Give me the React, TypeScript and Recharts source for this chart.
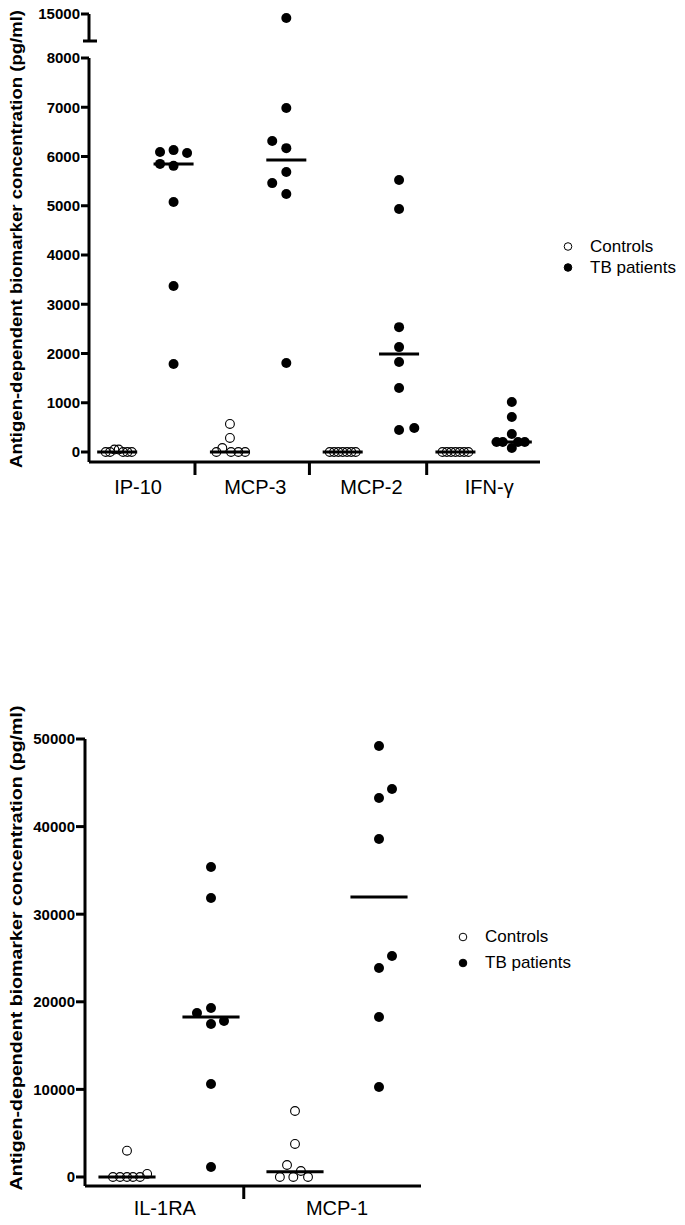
import { ScatterChart, Scatter, XAxis, YAxis, ReferenceLine, Legend } from 'recharts'

const FONT = '"Liberation Sans", Arial, Helvetica, sans-serif'
const TITLE = 'Antigen-dependent biomarker concentration (pg/ml)'

// ---- top panel ----
const topCategories = ['IP-10', 'MCP-3', 'MCP-2', 'IFN-γ']
const topTicks = [0, 1000, 2000, 3000, 4000, 5000, 6000, 7000, 8000]
const topBreakTicks = [13000, 15000]
const topSeparators = [2.38, 4.41, 6.49]
const topLabelPos = [1.37, 3.45, 5.51, 7.6]

const ip10Controls = [0, 0, 50, 50, 0, 0, 0]
const mcp3Controls = [570, 285, 80, 0, 0, 0, 0]
const mcp2Controls = [0, 0, 0, 0, 0, 0, 0]
const ifngControls = [0, 0, 0, 0, 0, 0, 0]

const ip10Tb = [6091, 6130, 6070, 5850, 5810, 5076, 3370, 1787]
const mcp3Tb = [14700, 6985, 6315, 6170, 5685, 5460, 5240, 1807]
const mcp2Tb = [5523, 4934, 2535, 2130, 1826, 1298, 446, 487]
const ifngTb = [1014, 711, 365, 203, 203, 203, 203, 81]

// horizontal spread of overlapping dots (column units)
const ip10ControlsDx = [-0.204, -0.127, -0.05, 0.027, 0.104, 0.181, 0.258]
const mcp3ControlsDx = [0, 0, -0.135, -0.24, 0.02, 0.15, 0.27]
const mcp2ControlsDx = [-0.23, -0.153, -0.077, 0, 0.077, 0.153, 0.23]
const ifngControlsDx = [-0.23, -0.153, -0.077, 0, 0.077, 0.153, 0.23]
const ip10TbDx = [-0.24, 0, 0.24, -0.24, 0, 0, 0, 0]
const mcp3TbDx = [0, 0, -0.25, 0, 0, -0.25, 0, 0]
const mcp2TbDx = [0, 0, 0, 0, 0, 0, 0, 0.27]
const ifngTbDx = [0, 0, 0, -0.27, -0.16, 0.11, 0.23, 0]

const topControlMedians = [0, 0, 0, 0]
const topTbMedians = [5848, 5930, 1990, 203]
const TOP_BREAK = 8000

// ---- bottom panel ----
const bottomCategories = ['IL-1RA', 'MCP-1']
const bottomTicks = [0, 10000, 20000, 30000, 40000, 50000]
const bottomSeparators = [2.39]
const bottomLabelPos = [1.45, 3.5]

const il1raControls = [3000, 0, 0, 0, 0, 0, 350]
const mcp1Controls = [7530, 3770, 1370, 685, 0, 0, 0]
const il1raTb = [35390, 31850, 19290, 18720, 17810, 17470, 10620, 1140]
const mcp1Tb = [49200, 44290, 43260, 38580, 25230, 23860, 18260, 10270]

const il1raControlsDx = [0, -0.167, -0.083, 0, 0.071, 0.155, 0.24]
const mcp1ControlsDx = [0, 0, -0.095, 0.07, -0.18, -0.02, 0.155]
const il1raTbDx = [0, 0, 0, -0.167, 0.155, 0, 0, 0]
const mcp1TbDx = [0, 0.155, 0, 0, 0.155, 0, 0, 0]

const bottomControlMedians = [0, 600]
const bottomTbMedians = [18260, 31960]

type Pt = { x: number; y: number }

function buildPoints(groups: number[][], dx: number[][], first: number): Pt[] {
  return groups.flatMap((vals, g) => vals.map((v, i) => ({ x: first + g * 2 + dx[g][i], y: v })))
}

const topCtrlPts = buildPoints(
  [ip10Controls, mcp3Controls, mcp2Controls, ifngControls],
  [ip10ControlsDx, mcp3ControlsDx, mcp2ControlsDx, ifngControlsDx],
  1
)
const topTbPts = buildPoints([ip10Tb, mcp3Tb, mcp2Tb, ifngTb], [ip10TbDx, mcp3TbDx, mcp2TbDx, ifngTbDx], 2)
const botCtrlPts = buildPoints([il1raControls, mcp1Controls], [il1raControlsDx, mcp1ControlsDx], 1)
const botTbPts = buildPoints([il1raTb, mcp1Tb], [il1raTbDx, mcp1TbDx], 2)

const OpenDot = (p: any) => <circle cx={p.cx} cy={p.cy} r={4.4} fill="none" stroke="#000" strokeWidth={1.1} />
const FilledDot = (p: any) => <circle cx={p.cx} cy={p.cy} r={5} fill="#000" />

const axisStroke = { stroke: '#000', strokeWidth: 3 }
const yTickStyle = { fill: '#000', fontSize: 15, fontWeight: 'bold', fontFamily: FONT }

function AxisTitle({ cx, cy, len }: any) {
  return (
    <text
      x={cx}
      y={cy}
      transform={`rotate(-90 ${cx} ${cy})`}
      textAnchor="middle"
      fontFamily={FONT}
      fontWeight="bold"
      fontSize={16.5}
      fill="#000"
      textLength={len}
      lengthAdjust="spacingAndGlyphs"
    >
      {TITLE}
    </text>
  )
}

function makeXTick(seps: number[], labelPos: number[], names: string[], labelDy: number) {
  return (props: any) => {
    const { x, y, payload } = props
    if (seps.includes(payload.value)) {
      return <line x1={x} x2={x} y1={y} y2={y + 13} stroke="#000" strokeWidth={3} />
    }
    const li = labelPos.indexOf(payload.value)
    return (
      <text x={x} y={y + labelDy} textAnchor="middle" fontFamily={FONT} fontSize={20} fill="#000">
        {names[li]}
      </text>
    )
  }
}

function BreakTick(props: any) {
  const { x, y, payload } = props
  if (payload.value === topBreakTicks[0]) {
    return <line x1={x - 6} x2={x + 8} y1={y} y2={y} stroke="#000" strokeWidth={3} />
  }
  return (
    <g>
      <line x1={x - 8} x2={x} y1={y} y2={y} stroke="#000" strokeWidth={3} />
      <text x={x - 9} y={y} dy="0.355em" textAnchor="end" {...yTickStyle}>
        {payload.value}
      </text>
    </g>
  )
}

function LegendBox({ payload, rowH }: any) {
  return (
    <div style={{ fontFamily: FONT, fontSize: 17, color: '#000' }}>
      {(payload || []).map((item: any) => (
        <div key={item.value} style={{ display: 'flex', alignItems: 'center', height: rowH }}>
          <svg width={30} height={rowH}>
            <circle
              cx={8}
              cy={rowH / 2}
              r={3.8}
              fill={item.value === 'Controls' ? 'none' : '#000'}
              stroke="#000"
              strokeWidth={1}
            />
          </svg>
          <span>{item.value}</span>
        </div>
      ))}
    </div>
  )
}

function medianLines(meds: number[], first: number, half: number, prefix: string) {
  return meds.map((m, g) => {
    const c = first + g * 2
    return (
      <ReferenceLine
        key={`${prefix}-${g}`}
        segment={[
          { x: c - half, y: m },
          { x: c + half, y: m },
        ]}
        stroke="#000"
        strokeWidth={3}
      />
    )
  })
}

function TopPanel() {
  const lowCtrl = topCtrlPts.filter((p) => p.y <= TOP_BREAK)
  const lowTb = topTbPts.filter((p) => p.y <= TOP_BREAK)
  const highTb = topTbPts.filter((p) => p.y > TOP_BREAK)
  return (
    <>
      <div style={{ position: 'absolute', left: 0, top: 0 }}>
        <ScatterChart width={685} height={520} margin={{ top: 58, right: 145, bottom: 0, left: 0 }}>
          <XAxis
            type="number"
            dataKey="x"
            domain={[0.5, 8.5]}
            ticks={[...topSeparators, ...topLabelPos].sort((a, b) => a - b)}
            interval={0}
            height={58}
            axisLine={axisStroke}
            tickLine={false}
            tickSize={0}
            tickMargin={0}
            tick={makeXTick(topSeparators, topLabelPos, topCategories, 32)}
          />
          <YAxis
            type="number"
            dataKey="y"
            domain={[-203, 8000]}
            ticks={topTicks}
            interval={0}
            width={89}
            axisLine={axisStroke}
            tickLine={axisStroke}
            tickSize={8}
            tickMargin={1}
            tick={yTickStyle}
            label={<AxisTitle cx={22} cy={239} len={458} />}
          />
          <Legend
            layout="horizontal"
            verticalAlign="middle"
            align="center"
            wrapperStyle={{ left: 560, top: 236, width: 125 }}
            content={(p: any) => <LegendBox {...p} rowH={21} />}
          />
          <Scatter name="Controls" data={lowCtrl} shape={OpenDot} isAnimationActive={false} />
          <Scatter name="TB patients" data={lowTb} shape={FilledDot} isAnimationActive={false} />
          {medianLines(topControlMedians, 1, 0.355, 'tc')}
          {medianLines(topTbMedians, 2, 0.355, 'tt')}
        </ScatterChart>
      </div>
      <div style={{ position: 'absolute', left: 0, top: 0 }}>
        <ScatterChart width={685} height={50} margin={{ top: 14, right: 145, bottom: 9, left: 0 }}>
          <XAxis type="number" dataKey="x" domain={[0.5, 8.5]} hide />
          <YAxis
            type="number"
            dataKey="y"
            domain={[13000, 15000]}
            ticks={topBreakTicks}
            interval={0}
            width={89}
            axisLine={axisStroke}
            tickLine={false}
            tickSize={0}
            tickMargin={0}
            tick={BreakTick}
          />
          <Scatter name="TB patients" data={highTb} shape={FilledDot} isAnimationActive={false} />
        </ScatterChart>
      </div>
    </>
  )
}

function BottomPanel() {
  return (
    <div style={{ position: 'absolute', left: 0, top: 700 }}>
      <ScatterChart width={685} height={525} margin={{ top: 39, right: 264, bottom: 0, left: 0 }}>
        <XAxis
          type="number"
          dataKey="x"
          domain={[0.5, 4.5]}
          ticks={[...bottomSeparators, ...bottomLabelPos].sort((a, b) => a - b)}
          interval={0}
          height={39}
          axisLine={axisStroke}
          tickLine={false}
          tickSize={0}
          tickMargin={0}
          tick={makeXTick(bottomSeparators, bottomLabelPos, bottomCategories, 29)}
        />
        <YAxis
          type="number"
          dataKey="y"
          domain={[-1030, 50000]}
          ticks={bottomTicks}
          interval={0}
          width={85}
          axisLine={axisStroke}
          tickLine={axisStroke}
          tickSize={9}
          tickMargin={1}
          tick={yTickStyle}
          label={<AxisTitle cx={22} cy={248} len={485} />}
        />
        <Legend
          layout="horizontal"
          verticalAlign="middle"
          align="center"
          wrapperStyle={{ left: 455, top: 224, width: 140 }}
          content={(p: any) => <LegendBox {...p} rowH={26} />}
        />
        <Scatter name="Controls" data={botCtrlPts} shape={OpenDot} isAnimationActive={false} />
        <Scatter name="TB patients" data={botTbPts} shape={FilledDot} isAnimationActive={false} />
        {medianLines(bottomControlMedians, 1, 0.34, 'bc')}
        {medianLines(bottomTbMedians, 2, 0.34, 'bt')}
      </ScatterChart>
    </div>
  )
}

export default function App() {
  return (
    <div style={{ position: 'absolute', left: 0, top: 0, width: 685, height: 1225, background: '#fff' }}>
      <TopPanel />
      <BottomPanel />
    </div>
  )
}
